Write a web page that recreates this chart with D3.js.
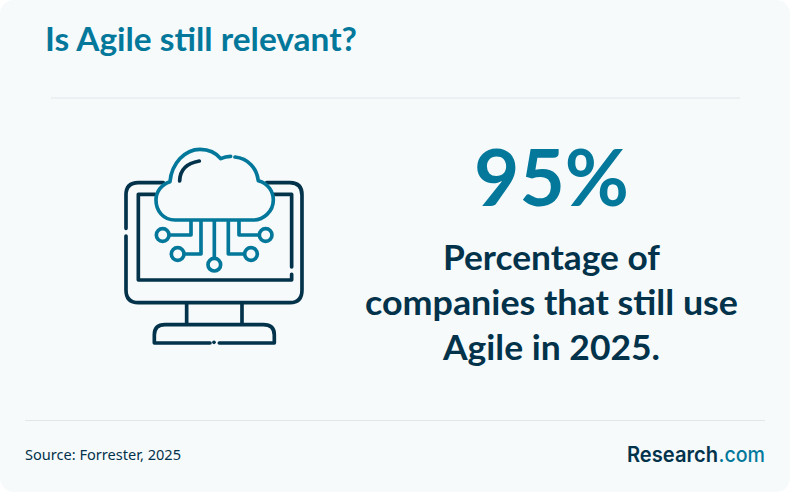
<!DOCTYPE html>
<html>
<head>
<meta charset="utf-8">
<script src="https://cdn.jsdelivr.net/npm/d3@7"></script>
<style>
html, body { margin: 0; padding: 0; background: #fff; }
svg { display: block; }
text { font-family: Lato, sans-serif; }
</style>
</head>
<body>
<div class="card"></div>
<script>
(function() {
	var width = 790,
		height = 492;

	var titleText = "Is Agile still relevant?";
	var statValues = [95];
	var statLines = ["Percentage of", "companies that still use", "Agile in 2025."];
	var sourceText = "Source: Forrester, 2025";
	var brandParts = ["Research", ".com"];

	var teal = "#03789b",
		navy = "#03324b",
		rule = "#e1e6e9",
		paper = "#f6fafb";

	var svg = d3.select(".card").append("svg")
		.attr("width", width)
		.attr("height", height);

	svg.append("rect")
		.attr("width", width)
		.attr("height", height)
		.attr("rx", 14)
		.attr("fill", paper);

	function line(x1, x2, y) {
		svg.append("line")
			.attr("x1", x1).attr("x2", x2)
			.attr("y1", y).attr("y2", y)
			.attr("stroke", rule)
			.attr("stroke-width", 1);
	}
	line(51, 740, 98);
	line(25, 765, 420.5);

	function label(str, x, y, size, weight, fill, anchor, len) {
		var t = svg.append("text")
			.attr("x", x).attr("y", y)
			.attr("font-size", size)
			.attr("font-weight", weight)
			.attr("fill", fill)
			.attr("text-anchor", anchor || "start")
			.text(str);
		if (len) t.attr("textLength", len).attr("lengthAdjust", "spacingAndGlyphs");
		return t;
	}

	label(titleText, 45, 51, 33, 700, teal, "start", 312);
	label(statValues[0] + "%", 551.5, 206, 78, 700, teal, "middle", 155);

	var statWidths = [217, 373, 217],
		statBase = d3.scalePoint().domain(statLines).range([270, 360]);
	statLines.forEach(function(d, i) {
		label(d, 551.5, statBase(d), 35, 700, navy, "middle", statWidths[i]);
	});

	label(sourceText, 25, 460, 13.5, 400, navy, "start", 156)
		.style("font-family", "'Noto Sans', sans-serif");

	label(brandParts[0], 627, 462, 21.3, 600, navy, "start", 91)
		.style("font-family", "Inter, sans-serif");
	label(brandParts[1], 718.5, 462, 21.3, 500, teal, "start", 46.5)
		.style("font-family", "Inter, sans-serif");

	// icon, drawn in the coordinates of a 3x crop
	var icon = svg.append("g")
		.attr("transform", "translate(110,135) scale(0.3333)")
		.attr("fill", "none")
		.attr("stroke-width", 11)
		.attr("stroke-linecap", "round")
		.attr("stroke-linejoin", "round");

	var navyPaths = [
		"M160,143 H85 Q48,143 48,180 V280",
		"M48,303 V465 Q48,503 85,503 H540 Q576,503 576,465 V180 Q576,143 540,143 H470",
		"M135,178 H85 V435 H545 V418",
		"M490,178 H545 V396",
		"M230,505 V567",
		"M396,505 V567",
		"M300,624 H133 V600 Q133,569 165,569 H460 Q493,569 493,600 V624 H328",
		"M312,622 V622.1",
		"M209,138 Q210,88 268,78"
	];
	var tealPaths = [
		"M375,66 C415,70 440,100 445,137 C475,145 490,170 490,195 C490,230 460,255 430,255 H195 C160,255 138,228 138,195 C138,170 155,148 180,140 C185,85 225,43 270,43 C295,43 318,53 332,71 C342,66 352,64 362,64",
		"M243,258 V300 H180",
		"M273,258 V357 H224",
		"M313,258 V368",
		"M355,258 V357 H402",
		"M387,258 V300 H445"
	];
	var circles = [[158, 300], [203, 357], [313, 389], [423, 357], [467, 300]];

	icon.selectAll(".navy").data(navyPaths).enter().append("path")
		.attr("class", "navy")
		.attr("stroke", navy)
		.attr("d", function(d) { return d; });

	// keeps the cloud's inside clear of the screen frame
	icon.insert("path", ":nth-child(9)")
		.attr("d", tealPaths[0])
		.attr("fill", paper)
		.attr("stroke", "none");

	icon.selectAll(".teal").data(tealPaths).enter().append("path")
		.attr("class", "teal")
		.attr("stroke", teal)
		.attr("d", function(d) { return d; });

	icon.selectAll("circle").data(circles).enter().append("circle")
		.attr("cx", function(d) { return d[0]; })
		.attr("cy", function(d) { return d[1]; })
		.attr("r", 19)
		.attr("stroke", teal);
})();
</script>
</body>
</html>
